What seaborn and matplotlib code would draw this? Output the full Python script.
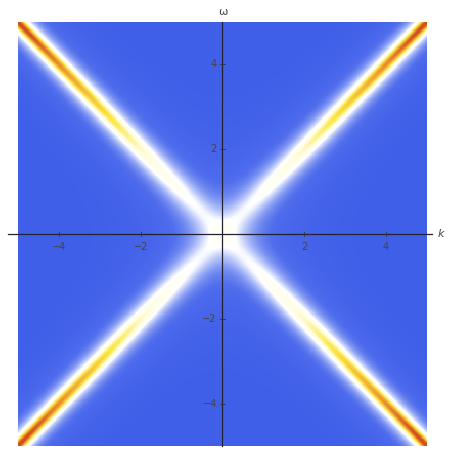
import numpy as np
import pandas as pd
import matplotlib
matplotlib.use("Agg")
import matplotlib.pyplot as plt
from matplotlib.colors import LinearSegmentedColormap
import seaborn as sns

# Plot range and sampling of the (k, omega) plane
k_range = [-5.0, 5.0]
w_range = [-5.0, 5.0]
n_samples = 400

# Dispersion branches omega = slope * k and their spectral-weight parameters
branch_slopes = [1.0, -1.0]
peak_base = [0.22]          # peak weight at the crossing point
peak_growth = [0.12]        # weight increase per unit distance along a branch
width_base = [0.40]         # Lorentzian half-width at the crossing point
width_shrink = [0.26]       # narrowing of the line per unit distance

tick_values = [-4, -2, 2, 4]
x_label = "k"
y_label = "\u03c9"

# Colour ramp: blue background -> white -> yellow -> orange -> red
ramp_stops = [0.0, 0.08, 0.22, 0.36, 0.52, 0.66, 0.84, 1.0]
ramp_colors = ["#3e5ee8", "#4f6dec", "#a9b9f7", "#ffffff", "#fffde0",
               "#fbe84a", "#f0a030", "#d0501e"]

k = np.linspace(k_range[0], k_range[1], n_samples)
w = np.linspace(w_range[1], w_range[0], n_samples)
K, W = np.meshgrid(k, w)

A = np.zeros_like(K)
for s in branch_slopes:
    d = (W - s * K) / np.sqrt(1 + s * s)              # distance from the branch
    r = np.abs(W + K / s) / np.sqrt(1 + 1 / (s * s))  # distance along the branch
    amp = peak_base[0] + peak_growth[0] * r
    wid = width_base[0] / (1 + width_shrink[0] * r)
    A += amp / (1 + (d / wid) ** 2)

df = pd.DataFrame(A, index=np.round(w, 3), columns=np.round(k, 3))

cmap = LinearSegmentedColormap.from_list("spec", list(zip(ramp_stops, ramp_colors)))

fig = plt.figure(figsize=(4.52, 4.55), dpi=100)
rect = [18 / 452, 1 - 446 / 455, 409 / 452, 424 / 455]

ax_img = fig.add_axes(rect)
sns.heatmap(df, ax=ax_img, cmap=cmap, vmin=0, vmax=1.02, cbar=False,
            xticklabels=False, yticklabels=False, rasterized=True)
ax_img.set_xlabel("")
ax_img.set_ylabel("")
for sp in ax_img.spines.values():
    sp.set_visible(False)

# Overlay axes in data coordinates with axes crossing at the origin
ax = fig.add_axes(rect, facecolor="none")
ax.set_xlim(k_range)
ax.set_ylim(w_range)
for name in ["top", "right", "left", "bottom"]:
    ax.spines[name].set_visible(False)
ax.axhline(0, xmin=-0.025, xmax=1.012, color="#222233", lw=0.9, clip_on=False)
ax.axvline(0, color="#222233", lw=0.9, clip_on=False)

tick_style = dict(fontsize=7, color="#444444")
for t in tick_values:
    ax.plot([t, t], [-0.05, 0.05], color="#333333", lw=0.6)
    ax.text(t, -0.18, str(t).replace("-", "\u2212"), ha="center", va="top", **tick_style)
    ax.plot([-0.05, 0.05], [t, t], color="#333333", lw=0.6)
    ax.text(-0.14, t, str(t).replace("-", "\u2212"), ha="right", va="center", **tick_style)
ax.set_xticks([])
ax.set_yticks([])

ax.text(1.026, 0.5, x_label, transform=ax.transAxes, ha="left", va="center",
        fontsize=8, style="italic", color="#444444")
ax.text(0.5, 1.012, y_label, transform=ax.transAxes, ha="center", va="bottom",
        fontsize=8, color="#444444")

fig.savefig("out.png", dpi=100)
